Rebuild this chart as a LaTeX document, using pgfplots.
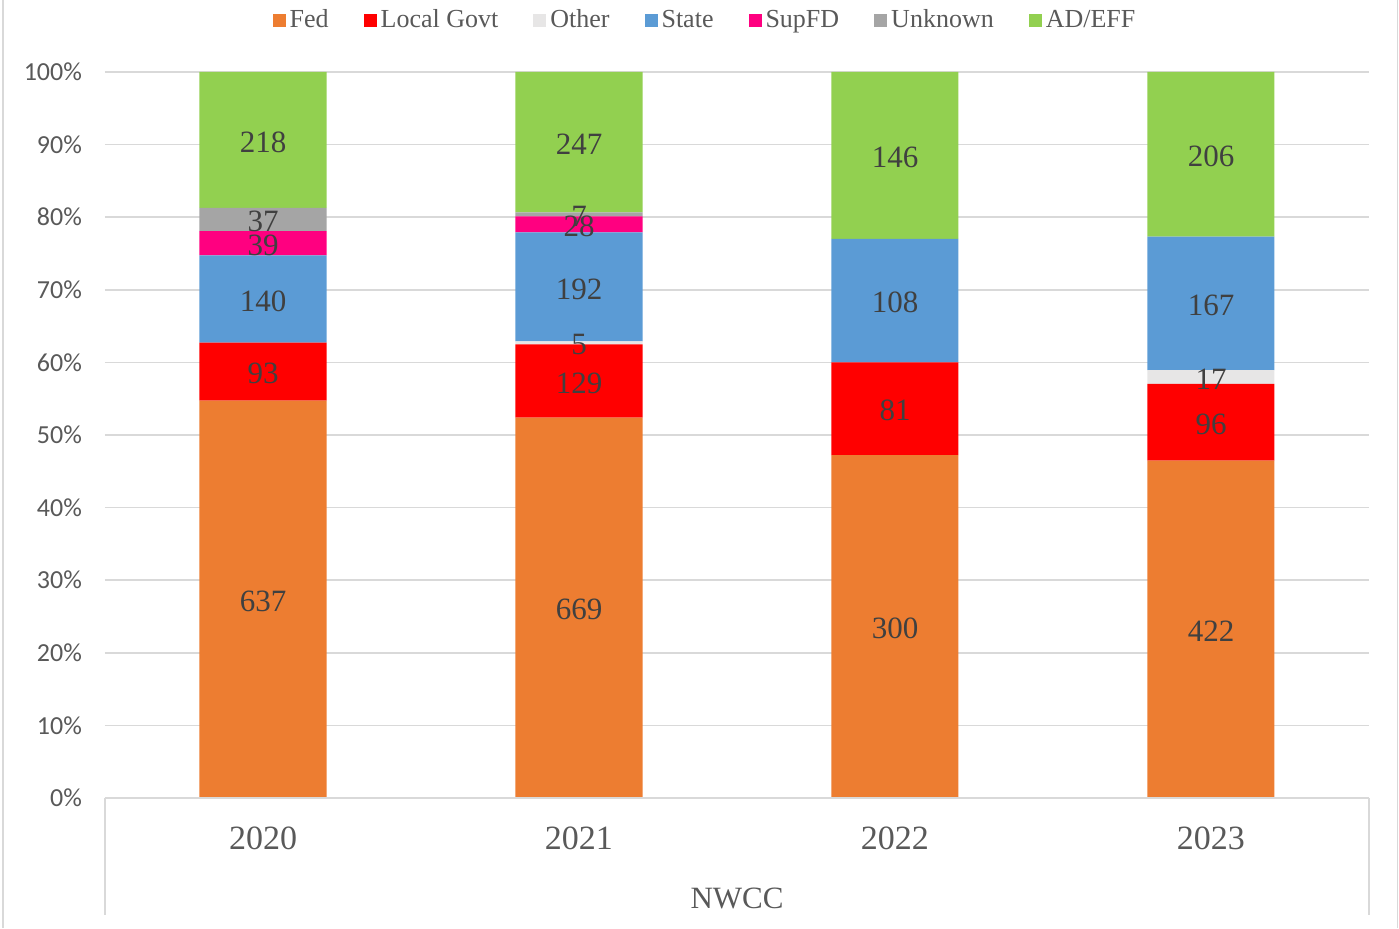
\documentclass[border=0pt]{standalone}
\usepackage{fontspec}
\setmainfont{Liberation Serif}
\newfontfamily\carlito{Carlito}
\usepackage{pgfplots}
\pgfplotsset{compat=1.18}

\definecolor{cFed}{HTML}{ED7D31}
\definecolor{cLocal}{HTML}{FF0000}
\definecolor{cOther}{HTML}{E7E6E6}
\definecolor{cState}{HTML}{5B9BD5}
\definecolor{cSup}{HTML}{FF0080}
\definecolor{cUnk}{HTML}{A5A5A5}
\definecolor{cAD}{HTML}{92D050}
\definecolor{txtgray}{HTML}{595959}
\definecolor{lblgray}{HTML}{404040}
\definecolor{gridgray}{HTML}{D9D9D9}

\pgfplotsset{nwcc frame/.style={
  at={(52.5pt,65pt)}, anchor=south west,
  scale only axis,
  width=632pt, height=363pt,
  xmin=-0.5, xmax=3.5,
  ymin=0, ymax=100,
}}

\begin{document}
\begin{tikzpicture}
\useasboundingbox (0,0) rectangle (699.5pt,464pt);
\draw[gridgray, line width=0.8pt] (1.5pt,0) -- (1.5pt,464pt);
\draw[gridgray, line width=0.8pt] (698.8pt,0) -- (698.8pt,464pt);

% bars, shares of each year's total (%)
\begin{axis}[
  nwcc frame,
  name=ax,
  ybar stacked,
  bar width=63.5pt,
  xtick={0,1,2,3},
  xticklabels={2020,2021,2022,2023},
  ytick={0,10,...,100},
  /pgf/number format/assume math mode=true,
  yticklabel={\pgfmathprintnumber{\tick}\%},
  yticklabel style={font=\carlito\fontsize{13}{15}\selectfont, text=txtgray, xshift=-8pt},
  xticklabel style={font=\fontsize{17}{19}\selectfont, text=txtgray, anchor=base, yshift=-25.5pt},
  major tick length=0pt,
  ymajorgrids=true,
  grid style={gridgray, line width=0.8pt},
  axis line style={draw=none},
  legend columns=7,
  legend style={draw=none, fill=none, at={(0.4755,1.0716)}, anchor=center,
    font=\fontsize{13}{15}\selectfont, text=txtgray,
    /tikz/every even column/.append style={column sep=15.5pt}},
  legend image code/.code={\fill[#1,draw=none] (0pt,-3.25pt) rectangle (6.5pt,3.25pt);},
]
\addplot[fill=cFed, draw=none] coordinates {(0,54.725) (1,52.388) (2,47.244) (3,46.476)};
\addplot[fill=cLocal, draw=none] coordinates {(0,7.990) (1,10.102) (2,12.756) (3,10.573)};
\addplot[fill=cOther, draw=none] coordinates {(0,0) (1,0.392) (2,0) (3,1.872)};
\addplot[fill=cState, draw=none] coordinates {(0,12.027) (1,15.035) (2,17.008) (3,18.392)};
\addplot[fill=cSup, draw=none] coordinates {(0,3.351) (1,2.193) (2,0) (3,0)};
\addplot[fill=cUnk, draw=none] coordinates {(0,3.179) (1,0.548) (2,0) (3,0)};
\addplot[fill=cAD, draw=none] coordinates {(0,18.728) (1,19.342) (2,22.992) (3,22.687)};
\legend{Fed,Local Govt,Other,State,SupFD,Unknown,AD/EFF}
\end{axis}

% counts, at the middle of each segment
\begin{axis}[
  nwcc frame,
  hide axis,
  point meta=explicit symbolic,
  nodes near coords,
  every node near coord/.append style={font=\fontsize{15.5}{17}\selectfont, text=lblgray, anchor=center, inner sep=0pt, yshift=-1pt},
]
\addplot[draw=none, mark=none] coordinates {
  (0,27.36)[637] (0,58.72)[93] (0,68.73)[140] (0,76.42)[39] (0,79.68)[37] (0,90.64)[218]
  (1,26.19)[669] (1,57.44)[129] (1,62.69)[5] (1,70.40)[192] (1,79.01)[28] (1,80.38)[7] (1,90.33)[247]
  (2,23.62)[300] (2,53.62)[81] (2,68.50)[108] (2,88.50)[146]
  (3,23.24)[422] (3,51.76)[96] (3,57.99)[17] (3,68.12)[167] (3,88.66)[206]
};
\end{axis}

\draw[gridgray, line width=0.8pt] (ax.south west) -- (ax.south east);
\draw[gridgray, line width=0.8pt] (ax.south west) -- ++(0,-58.5pt);
\draw[gridgray, line width=0.8pt] (ax.south east) -- ++(0,-58.5pt);
\node[font=\fontsize{15.5}{17}\selectfont, text=txtgray] at ([yshift=-50pt]ax.south) {NWCC};
\end{tikzpicture}
\end{document}
